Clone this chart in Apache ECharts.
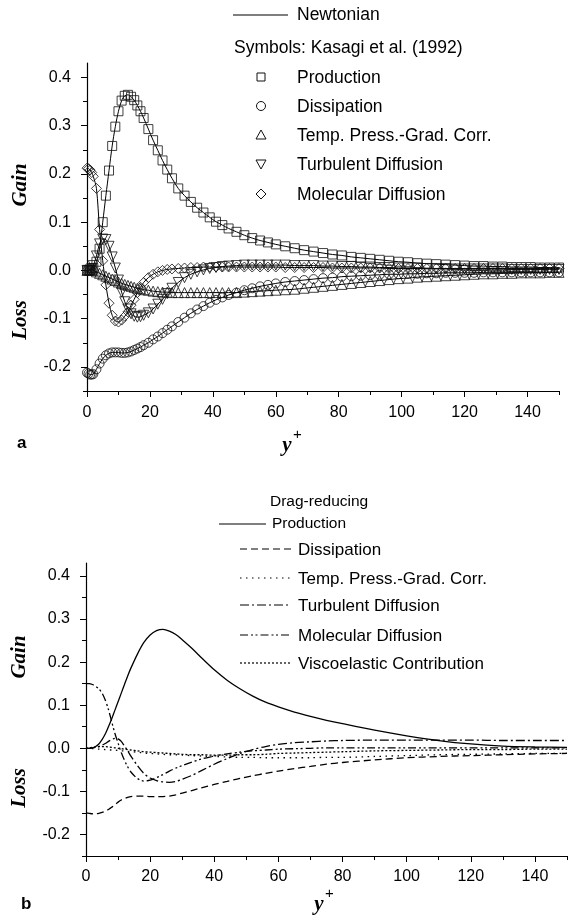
<!DOCTYPE html>
<html>
<head>
<meta charset="utf-8">
<script src="https://cdn.jsdelivr.net/npm/echarts@6/dist/echarts.min.js"></script>
<style>
html,body{margin:0;padding:0;background:#fff;}
#main{width:574px;height:917px;}
</style>
</head>
<body>
<div id="main"></div>
<script>
// panel a: y+ grid of the Kasagi points / Newtonian curves
var yA = [0, 0.5, 1, 1.5, 2,
  3, 4, 5, 6, 7, 8, 9, 10, 11, 12, 13, 14, 15, 16, 17, 18,
  19.5, 21, 22.5, 24, 25.5, 27,
  29, 31, 33, 35, 37, 39, 41, 43, 45,
  47.5, 50, 52.5, 55, 57.5, 60,
  63, 66, 69, 72, 75, 78, 81, 84, 87, 90, 93, 96, 99, 102, 105, 108, 111, 114, 117, 120,
  123, 126, 129, 132, 135, 138, 141, 144, 147, 150];
var prodA = [0, 0, 0.001, 0.002, 0.005,
  0.018, 0.045, 0.1, 0.155, 0.207, 0.258, 0.298, 0.33, 0.352, 0.362, 0.364, 0.36, 0.353, 0.342, 0.33, 0.316,
  0.293, 0.27, 0.249, 0.228, 0.209, 0.191,
  0.17, 0.155, 0.142, 0.13, 0.12, 0.11, 0.101, 0.094, 0.087,
  0.08, 0.073, 0.067, 0.062, 0.058, 0.054,
  0.05, 0.046, 0.042, 0.039, 0.036, 0.033, 0.031, 0.028, 0.026, 0.024, 0.022, 0.02, 0.018, 0.017, 0.015, 0.014, 0.013, 0.012, 0.011, 0.01,
  0.009, 0.009, 0.008, 0.008, 0.007, 0.007, 0.007, 0.006, 0.006, 0.006];
var dissA = [-0.212, -0.214, -0.216, -0.216, -0.215,
  -0.205, -0.193, -0.183, -0.176, -0.172, -0.17, -0.17, -0.17, -0.171, -0.171, -0.17, -0.168, -0.165, -0.162, -0.159, -0.155,
  -0.15, -0.143, -0.137, -0.13, -0.123, -0.116,
  -0.107, -0.098, -0.089, -0.081, -0.074, -0.067, -0.061, -0.056, -0.051,
  -0.046, -0.041, -0.037, -0.033, -0.03, -0.027,
  -0.024, -0.022, -0.02, -0.018, -0.016, -0.015, -0.013, -0.012, -0.011, -0.01, -0.009, -0.008, -0.008, -0.007, -0.007, -0.006, -0.006, -0.005, -0.005, -0.005,
  -0.005, -0.004, -0.004, -0.004, -0.004, -0.004, -0.004, -0.004, -0.004, -0.004];
var tpgcA = [0, 0.001, 0.001, 0.001, 0,
  -0.003, -0.006, -0.009, -0.012, -0.015, -0.018, -0.021, -0.024, -0.027, -0.029, -0.031, -0.033, -0.035, -0.037, -0.038, -0.04,
  -0.041, -0.043, -0.044, -0.045, -0.045, -0.046,
  -0.046, -0.046, -0.046, -0.046, -0.046, -0.046, -0.046, -0.046, -0.046,
  -0.046, -0.045, -0.044, -0.043, -0.042, -0.041,
  -0.04, -0.039, -0.037, -0.035, -0.033, -0.031, -0.029, -0.027, -0.025, -0.023, -0.021, -0.019, -0.017, -0.016, -0.014, -0.013, -0.012, -0.011, -0.01, -0.009,
  -0.008, -0.007, -0.007, -0.006, -0.006, -0.005, -0.005, -0.005, -0.004, -0.004];
var turbA = [0, 0, 0.001, 0.004, 0.01,
  0.03, 0.055, 0.065, 0.064, 0.05, 0.028, 0.005, -0.02, -0.045, -0.065, -0.08, -0.09, -0.095, -0.097, -0.096, -0.093,
  -0.088, -0.08, -0.07, -0.06, -0.048, -0.037,
  -0.025, -0.015, -0.008, -0.003, 0.001, 0.004, 0.006, 0.008, 0.009,
  0.01, 0.011, 0.011, 0.011, 0.011, 0.011,
  0.011, 0.01, 0.01, 0.01, 0.009, 0.009, 0.008, 0.008, 0.007, 0.007, 0.006, 0.006, 0.005, 0.005, 0.005, 0.004, 0.004, 0.004, 0.003, 0.003,
  0.003, 0.003, 0.003, 0.003, 0.002, 0.002, 0.002, 0.002, 0.002, 0.002];
var molA = [0.212, 0.211, 0.208, 0.203, 0.195,
  0.17, 0.085, 0.02, -0.03, -0.068, -0.093, -0.105, -0.107, -0.103, -0.095, -0.086, -0.072, -0.06, -0.046, -0.035, -0.025,
  -0.015, -0.008, -0.003, 0, 0.002, 0.003,
  0.004, 0.005, 0.006, 0.006, 0.007, 0.007, 0.007, 0.007, 0.007,
  0.007, 0.007, 0.007, 0.007, 0.007, 0.007,
  0.006, 0.006, 0.006, 0.006, 0.006, 0.005, 0.005, 0.005, 0.005, 0.005, 0.005, 0.004, 0.004, 0.004, 0.004, 0.004, 0.004, 0.004, 0.004, 0.004,
  0.004, 0.004, 0.004, 0.004, 0.004, 0.004, 0.004, 0.004, 0.004, 0.004];

// panel b: drag-reducing curves
var yB = [0, 1, 2, 3, 4, 5, 6, 7, 8, 9, 10, 11, 12, 13, 14, 16, 18, 20, 22, 24, 26, 28, 30, 33, 36, 40,
  44, 48, 52, 56, 60, 65, 70, 75, 80, 90, 100, 110, 120, 130, 140, 150];
var prodB = [0, 0, 0.001, 0.004, 0.01, 0.02, 0.033, 0.05, 0.068, 0.088, 0.108, 0.128, 0.148, 0.168, 0.186, 0.218, 0.245, 0.263, 0.273, 0.276, 0.272, 0.264, 0.252, 0.232, 0.21, 0.182,
  0.158, 0.138, 0.121, 0.107, 0.096, 0.084, 0.074, 0.065, 0.057, 0.042, 0.029, 0.018, 0.01, 0.005, 0.003, 0.002];
var dissB = [-0.15, -0.151, -0.152, -0.152, -0.151, -0.149, -0.146, -0.142, -0.137, -0.131, -0.125, -0.12, -0.117, -0.114, -0.112, -0.111, -0.111, -0.112, -0.112, -0.112, -0.111, -0.108, -0.104, -0.098, -0.092, -0.084,
  -0.077, -0.07, -0.064, -0.058, -0.053, -0.047, -0.042, -0.037, -0.033, -0.027, -0.022, -0.019, -0.017, -0.015, -0.013, -0.012];
var tpgcB = [0, 0, -0.001, -0.001, -0.002, -0.002, -0.003, -0.003, -0.004, -0.004, -0.005, -0.006, -0.006, -0.007, -0.008, -0.009, -0.011, -0.012, -0.013, -0.014, -0.015, -0.015, -0.016, -0.017, -0.018, -0.019,
  -0.02, -0.021, -0.021, -0.022, -0.022, -0.022, -0.022, -0.021, -0.021, -0.019, -0.017, -0.015, -0.014, -0.013, -0.012, -0.012];
var turbB = [0, 0, 0.001, 0.002, 0.004, 0.007, 0.011, 0.016, 0.02, 0.023, 0.022, 0.016, 0.005, -0.006, -0.018, -0.04, -0.058, -0.069, -0.075, -0.078, -0.079, -0.077, -0.072, -0.063, -0.052, -0.037,
  -0.024, -0.012, -0.003, 0.004, 0.009, 0.013, 0.015, 0.017, 0.018, 0.019, 0.019, 0.019, 0.019, 0.018, 0.018, 0.018];
var molB = [0.15, 0.15, 0.148, 0.144, 0.138, 0.128, 0.112, 0.09, 0.062, 0.035, 0.012, -0.01, -0.028, -0.043, -0.055, -0.07, -0.076, -0.074, -0.068, -0.061, -0.053, -0.046, -0.04, -0.032, -0.025, -0.018,
  -0.013, -0.009, -0.006, -0.004, -0.002, -0.001, 0, 0.001, 0.001, 0.001, 0.001, 0.001, 0.001, 0.001, 0.001, 0.001];
var viscB = [0, 0.001, 0.002, 0.003, 0.004, 0.004, 0.004, 0.003, 0.002, 0.001, 0, -0.001, -0.002, -0.003, -0.004, -0.006, -0.008, -0.009, -0.01, -0.011, -0.012, -0.013, -0.014, -0.015, -0.015, -0.016,
  -0.016, -0.015, -0.015, -0.014, -0.012, -0.011, -0.01, -0.009, -0.008, -0.006, -0.005, -0.004, -0.003, -0.003, -0.002, -0.002];

// ticks
var xMajor = [0, 20, 40, 60, 80, 100, 120, 140];
var xMinor = [10, 30, 50, 70, 90, 110, 130, 150];
var yMajor = [-0.2, -0.1, 0, 0.1, 0.2, 0.3, 0.4];
var yMinor = [-0.25, -0.15, -0.05, 0.05, 0.15, 0.25, 0.35];

var namesA = ['Production', 'Dissipation', 'Temp. Press.-Grad. Corr.', 'Turbulent Diffusion', 'Molecular Diffusion'];
var namesB = ['Production', 'Dissipation', 'Temp. Press.-Grad. Corr.', 'Turbulent Diffusion', 'Molecular Diffusion', 'Viscoelastic Contribution'];

var sans = '"Liberation Sans", Arial, sans-serif';
var serif = '"Liberation Serif", "Times New Roman", serif';

function pairs(xs, ys) {
    var out = [];
    for (var i = 0; i < xs.length; i++) {
        out.push([xs[i], ys[i]]);
    }
    return out;
}

function xAxes(gi, margin) {
    return [{
        gridIndex: gi, type: 'value', min: 0, max: 150, position: 'bottom',
        axisLine: {onZero: false, lineStyle: {color: '#000', width: 1.2}},
        axisTick: {customValues: xMajor, length: 6, lineStyle: {color: '#000'}},
        axisLabel: {customValues: xMajor, color: '#000', fontSize: 16, fontFamily: sans, margin: margin},
        splitLine: {show: false}
    }, {
        gridIndex: gi, type: 'value', min: 0, max: 150, position: 'bottom', offset: 0,
        axisLine: {show: false, onZero: false},
        axisTick: {customValues: xMinor, length: 4, lineStyle: {color: '#000'}},
        axisLabel: {show: false},
        splitLine: {show: false}
    }];
}

function yAxes(gi) {
    return [{
        gridIndex: gi, type: 'value', min: -0.25, max: 0.43, position: 'left',
        axisLine: {show: true, onZero: false, lineStyle: {color: '#000', width: 1.2}},
        axisTick: {show: true, customValues: yMajor, length: 6, lineStyle: {color: '#000'}},
        axisLabel: {customValues: yMajor, color: '#000', fontSize: 16, fontFamily: sans, margin: 16,
            formatter: function (v) { return v.toFixed(1); }},
        splitLine: {show: false}
    }, {
        gridIndex: gi, type: 'value', min: -0.25, max: 0.43, position: 'left', offset: 0,
        axisLine: {show: false, onZero: false},
        axisTick: {show: true, customValues: yMinor, length: 4, lineStyle: {color: '#000'}},
        axisLabel: {show: false},
        splitLine: {show: false}
    }];
}

var series = [];
var dataA = [prodA, dissA, tpgcA, turbA, molA];
var symA = ['rect', 'circle', 'triangle', 'triangle', 'diamond'];
var rotA = [0, 0, 0, 180, 0];
var sizeA = [9, 9, 10, 10, 10];
// Newtonian curves
for (var i = 0; i < dataA.length; i++) {
    series.push({
        name: 'Newtonian', type: 'line', xAxisIndex: 0, yAxisIndex: 0,
        data: pairs(yA, dataA[i]), showSymbol: false, smooth: 0.3,
        lineStyle: {color: '#000', width: 1}, z: 2
    });
}
// Kasagi symbols
for (var i = 0; i < dataA.length; i++) {
    series.push({
        name: namesA[i], type: 'scatter', xAxisIndex: 0, yAxisIndex: 0,
        data: pairs(yA, dataA[i]), symbol: symA[i], symbolRotate: rotA[i], symbolSize: sizeA[i],
        itemStyle: {color: 'rgba(0,0,0,0)', borderColor: '#111', borderWidth: 1}, z: 3
    });
}

var dataB = [prodB, dissB, tpgcB, turbB, molB, viscB];
var dashB = ['solid', [7, 4], [1.5, 4.5], [9, 3, 2, 3], [8, 3, 2, 2.5, 2, 3], [2, 2]];
for (var i = 0; i < dataB.length; i++) {
    series.push({
        name: namesB[i], type: 'line', xAxisIndex: 2, yAxisIndex: 2,
        data: pairs(yB, dataB[i]), showSymbol: false, smooth: 0.3,
        lineStyle: {color: '#000', width: 1.3, type: dashB[i]}
    });
}

// legend & labels drawn as graphic
var g = [];
function txt(x, y, s, size, extra) {
    var st = {text: s, fontSize: size, fontFamily: sans, fill: '#000', align: 'left', verticalAlign: 'middle'};
    for (var k in extra) st[k] = extra[k];
    g.push({type: 'text', x: x, y: y, style: st, z: 10});
}
function seg(x1, x2, y, dash) {
    g.push({type: 'line', shape: {x1: x1, y1: y, x2: x2, y2: y},
        style: {stroke: '#000', lineWidth: 1.2, lineDash: dash || null}, z: 10});
}

// panel a legend
seg(233, 288, 15);
txt(297, 15, 'Newtonian', 17.5);
txt(234, 48, 'Symbols: Kasagi et al. (1992)', 17.5);
var legY = [77, 106, 135, 164, 194];
var stroke = {fill: 'none', stroke: '#111', lineWidth: 1};
g.push({type: 'rect', shape: {x: 257, y: legY[0] - 4, width: 8, height: 8}, style: stroke, z: 10});
g.push({type: 'circle', shape: {cx: 261, cy: legY[1], r: 4.5}, style: stroke, z: 10});
g.push({type: 'polygon', shape: {points: [[261, legY[2] - 5], [266, legY[2] + 4], [256, legY[2] + 4]]}, style: stroke, z: 10});
g.push({type: 'polygon', shape: {points: [[256, legY[3] - 4], [266, legY[3] - 4], [261, legY[3] + 5]]}, style: stroke, z: 10});
g.push({type: 'polygon', shape: {points: [[261, legY[4] - 5], [266, legY[4]], [261, legY[4] + 5], [256, legY[4]]]}, style: stroke, z: 10});
for (var i = 0; i < namesA.length; i++) {
    txt(297, legY[i] + 1, namesA[i], 17.5);
}

// panel b legend
txt(270, 502, 'Drag-reducing', 15.5);
seg(219, 266, 524);
txt(272, 524, namesB[0], 15.5);
var legYB = [550, 579, 606, 636, 664];
for (var i = 1; i < namesB.length; i++) {
    seg(240, 291, legYB[i - 1] - 1, dashB[i]);
    txt(298, legYB[i - 1], namesB[i], 17);
}

// axis titles
var axisFont = {fontFamily: serif, fontWeight: 'bold', fontStyle: 'italic', align: 'center'};
function rot(x, y, s) {
    g.push({type: 'text', x: x, y: y, rotation: Math.PI / 2,
        style: {text: s, fontSize: 21, fontFamily: serif, fontWeight: 'bold', fontStyle: 'italic',
            fill: '#000', align: 'center', verticalAlign: 'middle'}, z: 10});
}
rot(21, 185, 'Gain');
rot(21, 320, 'Loss');
rot(20, 657, 'Gain');
rot(20, 788, 'Loss');
txt(287, 446, 'y', 21, axisFont);
txt(293, 435, '+', 15, {});
txt(319, 905, 'y', 21, axisFont);
txt(325, 894, '+', 15, {});
txt(17, 443, 'a', 17, {fontWeight: 'bold'});
txt(21, 904, 'b', 17, {fontWeight: 'bold'});

var option = {
    animation: false,
    backgroundColor: '#fff',
    grid: [
        {left: 87, top: 63, width: 472, height: 328},
        {left: 86, top: 563, width: 481, height: 293}
    ],
    xAxis: xAxes(0, 14).concat(xAxes(1, 13)),
    yAxis: yAxes(0).concat(yAxes(1)),
    series: series,
    graphic: g
};

var myChart = echarts.init(document.getElementById('main'));
myChart.setOption(option);
</script>
</body>
</html>
